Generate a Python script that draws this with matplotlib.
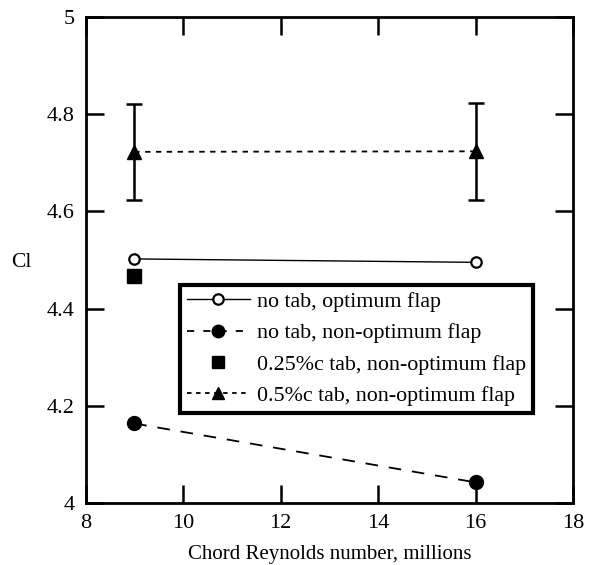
import matplotlib
matplotlib.use("Agg")
import matplotlib.pyplot as plt
from matplotlib.lines import Line2D

plt.rcParams['font.family'] = ['Liberation Serif', 'DejaVu Serif']
plt.rcParams['mathtext.fontset'] = 'stix'

re_x = [9, 16]
cl_no_tab_opt = [4.502, 4.495]
cl_no_tab_nonopt = [4.164, 4.043]
re_quarter = [9]
cl_quarter_tab = [4.466]
cl_half_tab = [4.722, 4.723]
cl_half_err = [0.099, 0.100]

xticks = [8, 10, 12, 14, 16, 18]
yticks = [4, 4.2, 4.4, 4.6, 4.8, 5]
ytick_labels = ['4', '4.2', '4.4', '4.6', '4.8', '5']

fig = plt.figure(figsize=(5.89, 5.65), dpi=100)
ax = fig.add_axes([85.5/589, 1 - 503.3/565, (573 - 85.5)/589, (503.3 - 16.5)/565])

l1, = ax.plot(re_x, cl_no_tab_opt, color='black', lw=1.0, marker='o', ms=7.5,
              mfc='white', mec='black', mew=1.6)
l2, = ax.plot(re_x, cl_no_tab_nonopt, color='black', lw=1.3, ls=(0, (7, 6)),
              marker='o', ms=10, mfc='black', mec='black')
l3, = ax.plot(re_quarter, cl_quarter_tab, ls='none', marker='s', ms=10,
              mfc='black', mec='black')
ax.errorbar(re_x, cl_half_tab, yerr=cl_half_err, fmt='none', ecolor='black',
            elinewidth=1.8, capsize=6, capthick=1.8)
l4, = ax.plot(re_x, cl_half_tab, color='black', lw=1.3, ls=(0, (3, 3)),
              marker='^', ms=10, mfc='black', mec='black')

ax.set_xlim(8, 18)
ax.set_ylim(4, 5)
ax.set_xticks(xticks)
ax.set_yticks(yticks)
ax.set_yticklabels(ytick_labels)
ax.tick_params(direction='in', length=13, width=1.8, top=True, right=True,
               labelsize=16, pad=8)
for s in ax.spines.values():
    s.set_linewidth(2.0)

ax.set_xlabel('Chord Reynolds number, millions', fontsize=15, labelpad=8)
ax.set_ylabel('Cl', fontsize=15.5, rotation=0, va='center', ha='center')
ax.yaxis.set_label_coords(-0.132, 0.494)

h1 = Line2D([], [], color='black', lw=1.0, marker='o', ms=7.5, mfc='white', mec='black', mew=1.6)
h2 = Line2D([], [], color='black', lw=1.3, ls=(0, (4, 5)), marker='o', ms=9, mfc='black')
h3 = Line2D([], [], ls='none', marker='s', ms=9, mfc='black', mec='black')
h4 = Line2D([], [], color='black', lw=1.3, ls=(0, (2.5, 2.5)), marker='^', ms=9, mfc='black')
leg = ax.legend([h1, h2, h3, h4],
                ['no tab, optimum flap', 'no tab, non-optimum flap',
                 '0.25%c tab, non-optimum flap', '0.5%c tab, non-optimum flap'],
                loc='upper left', bbox_to_anchor=((180 - 85.5)/487.5, 1 - (285 - 16.5)/486.8),
                fontsize=15.8, frameon=True, fancybox=False, framealpha=1,
                edgecolor='black', handlelength=2.9, handletextpad=0.3,
                borderpad=0.3, labelspacing=0.5, borderaxespad=0)
leg.get_frame().set_linewidth(3.0)

fig.savefig('out.png', dpi=100)
